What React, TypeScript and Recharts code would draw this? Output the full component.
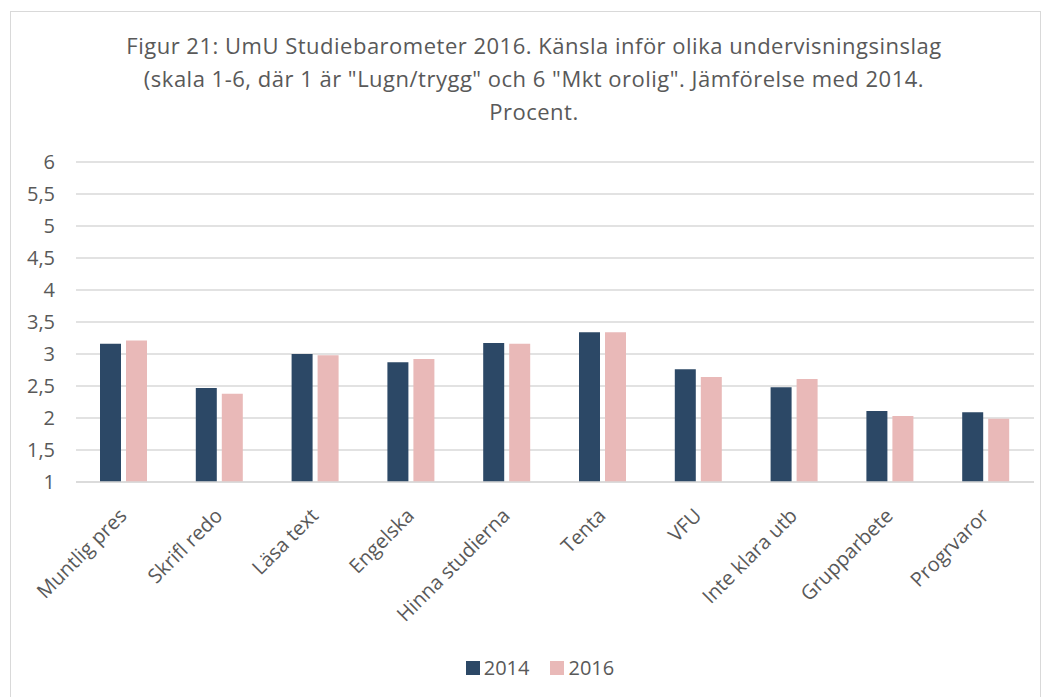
import React from "react";
import { BarChart, Bar, XAxis, YAxis, CartesianGrid } from "recharts";

const categories = [
  "Muntlig pres",
  "Skrifl redo",
  "Läsa text",
  "Engelska",
  "Hinna studierna",
  "Tenta",
  "VFU",
  "Inte klara utb",
  "Grupparbete",
  "Progrvaror",
];
const values2014 = [3.16, 2.47, 3.0, 2.87, 3.17, 3.34, 2.76, 2.48, 2.11, 2.09];
const values2016 = [3.21, 2.38, 2.98, 2.92, 3.16, 3.34, 2.64, 2.61, 2.03, 1.99];
const yTicks = [1, 1.5, 2, 2.5, 3, 3.5, 4, 4.5, 5, 5.5, 6];

const titleLines = [
  "Figur 21: UmU Studiebarometer 2016. Känsla inför olika undervisningsinslag",
  '(skala 1-6, där 1 är "Lugn/trygg" och 6 "Mkt orolig". Jämförelse med 2014.',
  "Procent.",
];

const data = categories.map((name, i) => ({
  name,
  y2014: values2014[i],
  y2016: values2016[i],
}));

const FONT = "'Open Sans', sans-serif";
const TEXT = "#595959";
const DARK = "#2C4866";
const PINK = "#E9B9B8";

const XTick = (props: any) => {
  const { x, y, payload } = props;
  return (
    <g transform={`translate(${x + 4},${y + 27})`}>
      <text
        x={0}
        y={0}
        transform="rotate(-45)"
        textAnchor="end"
        fill={TEXT}
        fontSize={20}
        fontFamily={FONT}
      >
        {payload.value}
      </text>
    </g>
  );
};

export default function App() {
  return (
    <div
      style={{
        position: "fixed",
        left: 0,
        top: 0,
        width: 1051,
        height: 697,
        background: "#fff",
        overflow: "hidden",
      }}
    >
      <div
        style={{
          position: "absolute",
          left: 10,
          top: 11,
          width: 1031,
          height: 700,
          border: "1.5px solid #D9D9D9",
          boxSizing: "border-box",
        }}
      />
      <div
        style={{
          position: "absolute",
          left: 0,
          top: 29,
          width: 1068,
          textAlign: "center",
          fontFamily: FONT,
          fontSize: 22,
          letterSpacing: 0.5,
          lineHeight: "33px",
          color: TEXT,
        }}
      >
        {titleLines.map((t) => (
          <div key={t}>{t}</div>
        ))}
      </div>
      <div style={{ position: "absolute", left: 0, top: 0 }}>
        <BarChart
          width={1051}
          height={697}
          data={data}
          margin={{ top: 162, right: 17, bottom: 0, left: 0 }}
          barCategoryGap={24}
          barGap={5}
        >
          <CartesianGrid vertical={false} stroke="#D9D9D9" strokeWidth={1.5} />
          <XAxis
            dataKey="name"
            interval={0}
            tickLine={false}
            axisLine={{ stroke: "#D9D9D9", strokeWidth: 1.5 }}
            tick={<XTick />}
            height={215}
          />
          <YAxis
            width={76}
            domain={[1, 6]}
            ticks={yTicks}
            interval={0}
            axisLine={false}
            tickLine={false}
            tickSize={0}
            tickMargin={21}
            tickFormatter={(v: number) => String(v).replace(".", ",")}
            tick={{ fill: TEXT, fontSize: 20, fontFamily: FONT }}
          />
          <Bar dataKey="y2014" name="2014" fill={DARK} isAnimationActive={false} />
          <Bar dataKey="y2016" name="2016" fill={PINK} isAnimationActive={false} />
        </BarChart>
      </div>
      <div
        style={{
          position: "absolute",
          top: 654,
          left: 0,
          width: 1080,
          display: "flex",
          justifyContent: "center",
          alignItems: "center",
          fontFamily: FONT,
          fontSize: 20,
          color: TEXT,
        }}
      >
        <span style={{ width: 14, height: 14, background: DARK, marginRight: 4 }} />
        <span style={{ marginRight: 20 }}>2014</span>
        <span style={{ width: 14, height: 14, background: PINK, marginRight: 5 }} />
        <span>2016</span>
      </div>
    </div>
  );
}
